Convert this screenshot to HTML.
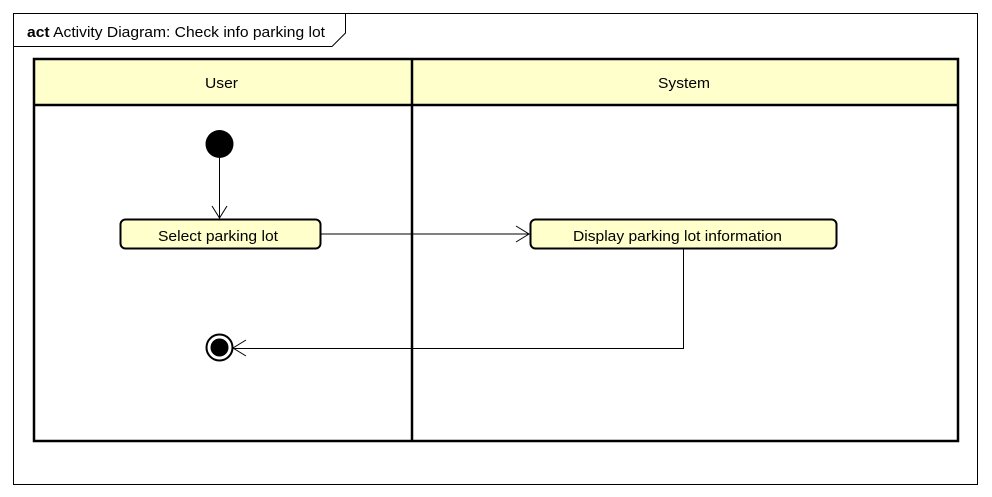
<!DOCTYPE html>
<html><head><style>body{margin:0;background:#fff}svg{display:block}</style></head><body>
<svg width="992" height="497" xmlns="http://www.w3.org/2000/svg" font-family="Liberation Sans, sans-serif">
<rect x="13.5" y="13.5" width="964" height="471" fill="#fff" stroke="#000" stroke-width="1"/>
<path d="M13.5 46.5 H332 L345.5 33 V13.5" fill="none" stroke="#000" stroke-width="1"/>
<text x="27" y="37" font-size="15" textLength="298" lengthAdjust="spacingAndGlyphs"><tspan font-weight="bold">act</tspan> Activity Diagram: Check info parking lot</text>
<rect x="34" y="59" width="924" height="46" fill="#ffffcc"/>
<rect x="34" y="59" width="924" height="382" fill="none" stroke="#000" stroke-width="2.5"/>
<line x1="34" y1="105" x2="958" y2="105" stroke="#000" stroke-width="2.5"/>
<line x1="412" y1="59" x2="412" y2="441" stroke="#000" stroke-width="2.5"/>
<text x="205" y="88" font-size="15" textLength="33" lengthAdjust="spacingAndGlyphs">User</text>
<text x="658" y="88" font-size="15" textLength="52" lengthAdjust="spacingAndGlyphs">System</text>
<circle cx="219.5" cy="144" r="14" fill="#000"/>
<line x1="219.5" y1="158" x2="219.5" y2="218" stroke="#000"/>
<path d="M212 206 L219.5 218 L227 206" fill="none" stroke="#000"/>
<rect x="120.5" y="219.5" width="200" height="29" rx="5" fill="#ffffcc" stroke="#000" stroke-width="2"/>
<text x="158" y="241" font-size="15" textLength="120" lengthAdjust="spacingAndGlyphs">Select parking lot</text>
<line x1="321" y1="234" x2="529" y2="234" stroke="#000"/>
<path d="M516 226 L529 234 L516 242" fill="none" stroke="#000"/>
<rect x="530.5" y="219.5" width="306" height="29" rx="5" fill="#ffffcc" stroke="#000" stroke-width="2"/>
<text x="573" y="241" font-size="15" textLength="209" lengthAdjust="spacingAndGlyphs">Display parking lot information</text>
<path d="M683.5 249 V348.5 H233" fill="none" stroke="#000"/>
<path d="M246 340 L233 348 L246 356" fill="none" stroke="#000"/>
<circle cx="219.5" cy="347.5" r="13" fill="#fff" stroke="#000" stroke-width="2"/>
<circle cx="219.5" cy="347.5" r="9" fill="#000"/>
</svg>
</body></html>
